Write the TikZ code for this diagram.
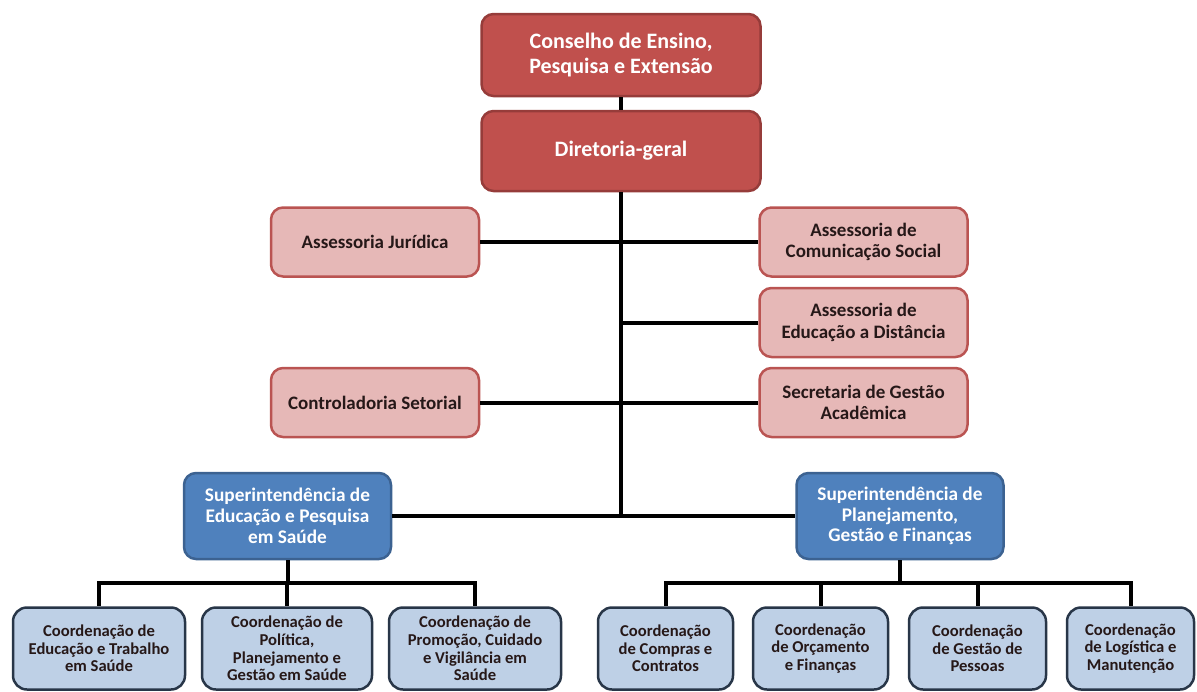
\documentclass[tikz,border=0pt]{standalone}
\usepackage{fontspec}
\setmainfont{Carlito}
\definecolor{orgred}{RGB}{192,80,77}
\definecolor{orgredline}{RGB}{150,60,58}
\definecolor{orgpink}{RGB}{230,184,183}
\definecolor{orgpinkline}{RGB}{186,84,82}
\definecolor{orgblue}{RGB}{79,129,189}
\definecolor{orgblueline}{RGB}{60,98,145}
\definecolor{orglight}{RGB}{190,208,230}
\definecolor{orglightline}{RGB}{40,54,72}
\definecolor{orgtext}{RGB}{38,24,24}

\begin{document}
\begin{tikzpicture}[x=1pt, y=-1pt,
	box/.style={rounded corners=12pt, line width=2.5pt, align=center, inner sep=0pt},
	headbox/.style={box, fill=orgred, draw=orgredline, text=white, minimum width=279pt, font=\fontsize{22}{25}\selectfont\bfseries},
	staffbox/.style={box, fill=orgpink, draw=orgpinkline, text=orgtext, minimum width=208pt, minimum height=69pt, font=\fontsize{19}{21.7}\selectfont\bfseries},
	superbox/.style={box, fill=orgblue, draw=orgblueline, text=white, minimum width=207pt, minimum height=86pt, font=\fontsize{19.3}{20.8}\selectfont\bfseries},
	coordbox/.style={box, rounded corners=14pt, fill=orglight, draw=orglightline, text=orgtext, minimum height=82pt, font=\fontsize{16.6}{17.7}\selectfont\bfseries},
	link/.style={line width=4pt, black}]

\useasboundingbox (0,0) rectangle (1197,691);

\node[headbox, minimum height=82pt] (cons) at (621,55) {Conselho de Ensino,\\Pesquisa e Extensão};
\node[headbox, minimum height=80pt] (dir) at (621,151) {Diretoria-geral};

\node[staffbox] (aj) at (375,242) {Assessoria Jurídica};
\node[staffbox] (ctrl) at (375,402.5) {Controladoria Setorial};
\node[staffbox] (acs) at (863.5,242) {Assessoria de\\Comunicação Social};
\node[staffbox] (aed) at (863.5,322.5) {Assessoria de\\Educação a Distância};
\node[staffbox] (sec) at (863.5,402.5) {Secretaria de Gestão\\Acadêmica};

\node[superbox] (sup1) at (287.5,516) {Superintendência de\\Educação e Pesquisa\\em Saúde};
\node[superbox] (sup2) at (900,516) {Superintendência de\\Planejamento,\\Gestão e Finanças};

\foreach \nm/\x/\w/\txt in {
	c1/99/172/{Coordenação de\\Educação e Trabalho\\em Saúde},
	c2/287/170/{Coordenação de\\Política,\\Planejamento e\\Gestão em Saúde},
	c3/475/172/{Coordenação de\\Promoção, Cuidado\\e Vigilância em\\Saúde},
	c4/665.5/135/{Coordenação\\de Compras e\\Contratos},
	c5/820.5/135/{Coordenação\\de Orçamento\\e Finanças},
	c6/977.5/137/{Coordenação\\de Gestão de\\Pessoas},
	c7/1130.5/127/{Coordenação\\de Logística e\\Manutenção}}{
	\node[coordbox, minimum width=\w pt] (\nm) at (\x,648.5) {\txt};
}

\draw[link] (cons) -- (dir);
\draw[link] (dir.south) -- (dir.south |- sup1.east);
\draw[link] (aj) -- (acs);
\draw[link] (ctrl) -- (sec);
\draw[link] (aed.west) -- (aed.west -| dir.south);
\draw[link] (sup1) -- (sup2);

\foreach \nm in {c1, c2, c3}{
	\draw[link] (sup1.south) -- ++(0,23) -| (\nm.north);
}
\foreach \nm in {c4, c5, c6, c7}{
	\draw[link] (sup2.south) -- ++(0,23) -| (\nm.north);
}
\end{tikzpicture}
\end{document}
